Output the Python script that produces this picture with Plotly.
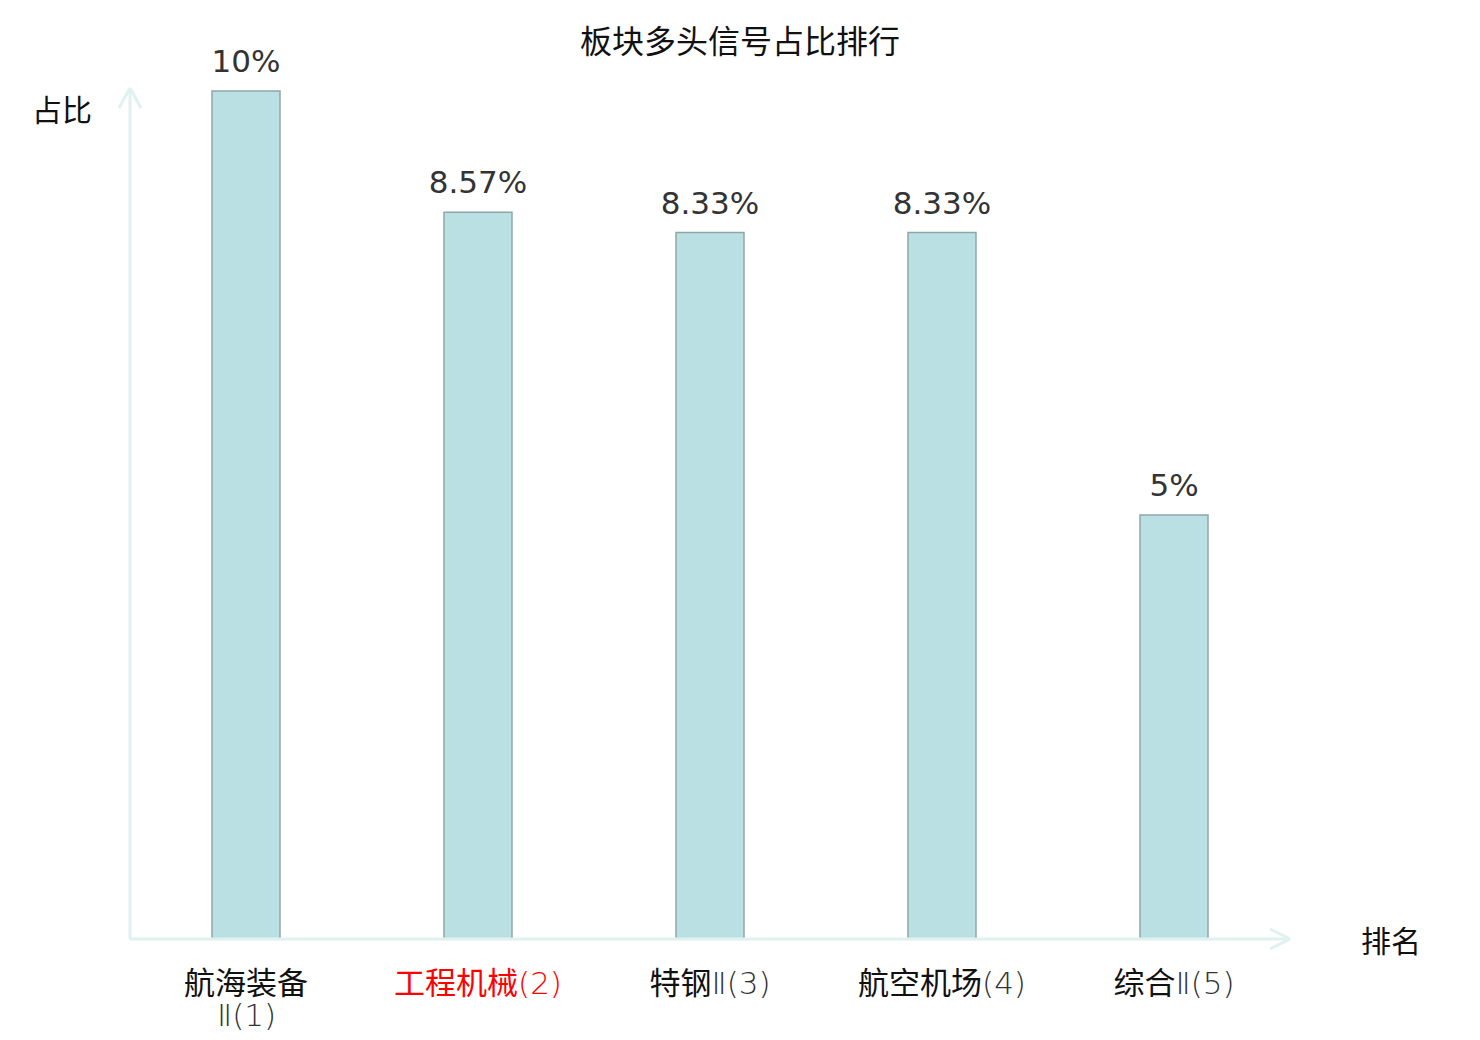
import plotly.graph_objects as go

# 板块多头信号占比
categories = ["航海装备Ⅱ(1)", "工程机械(2)", "特钢Ⅱ(3)", "航空机场(4)", "综合Ⅱ(5)"]
values = [10, 8.57, 8.33, 8.33, 5]
value_labels = ["10%", "8.57%", "8.33%", "8.33%", "5%"]

AXIS_COLOR = "#dff2ef"
CJK = "Noto Sans CJK SC"
LAT = "font-family:'DejaVu Sans';font-weight:200"


def latin(s, color="#333333"):
    return "<span style=\"%s;color:%s\">%s</span>" % (LAT, color, s)


tick_labels = [
    "航海装备",
    "<span style='color:#ff0000'>工程机械</span>" + latin("(2)", "#ff0000"),
    "特钢" + latin("Ⅱ(3)"),
    "航空机场" + latin("(4)"),
    "综合" + latin("Ⅱ(5)"),
]
xs = list(range(len(categories)))

fig = go.Figure()
fig.add_trace(go.Bar(
    x=xs,
    y=values,
    width=0.293,
    marker=dict(color="#bbe0e3", line=dict(color="#8fa6a8", width=1.5)),
    hovertext=categories,
))
# value labels above the bars
fig.add_trace(go.Scatter(
    x=xs,
    y=values,
    mode="markers+text",
    marker=dict(size=16, opacity=0),
    text=value_labels,
    textposition="top center",
    textfont=dict(family="DejaVu Sans", size=31, color="#333333"),
    cliponaxis=False,
    hoverinfo="skip",
))

# axis lines with open arrow heads
arrow = dict(color=AXIS_COLOR, width=3)
shapes = [
    dict(type="line", xref="x domain", yref="y domain", x0=0, x1=1, y0=0, y1=0, line=arrow),
    dict(type="line", xref="x domain", yref="y domain", x0=0, x1=0, y0=0, y1=1, line=arrow),
]
for dy in (10, -10):
    shapes.append(dict(type="line", xref="x domain", yref="y domain",
                       xsizemode="pixel", xanchor=1, x0=0, x1=-20,
                       ysizemode="pixel", yanchor=0, y0=0, y1=dy, line=arrow))
for dx in (11, -11):
    shapes.append(dict(type="line", xref="x domain", yref="y domain",
                       xsizemode="pixel", xanchor=0, x0=0, x1=dx,
                       ysizemode="pixel", yanchor=1, y0=0, y1=-20, line=arrow))

fig.update_layout(
    width=1480,
    height=1040,
    margin=dict(l=122, r=198, t=80, b=109, autoexpand=False),
    paper_bgcolor="white",
    plot_bgcolor="white",
    showlegend=False,
    title=dict(text="板块多头信号占比排行", x=732 / 1480, xref="container", xanchor="center",
               y=1 - 34 / 1040, yref="container", yanchor="middle",
               font=dict(family=CJK, size=32, color="#111111")),
    shapes=shapes,
    xaxis=dict(range=[-0.5, 4.5], tickvals=xs, ticktext=tick_labels,
               showgrid=False, zeroline=False, showline=False, ticks="", automargin=False,
               tickfont=dict(family=CJK, size=31, color="#111111"), ticklabelstandoff=23),
    yaxis=dict(range=[0, 10.035], showgrid=False, zeroline=False, showline=False,
               showticklabels=False, ticks="", automargin=False),
    annotations=[
        dict(text=latin("Ⅱ(1)"), x=0, xref="x", y=0, yref="paper", yshift=-76,
             xanchor="center", yanchor="middle", showarrow=False,
             font=dict(family=CJK, size=31, color="#111111")),
        dict(text="占比", xref="paper", yref="paper", x=0, y=1, xshift=-68, yshift=-20,
             xanchor="center", yanchor="middle",
             showarrow=False, font=dict(family=CJK, size=30, color="#111111")),
        dict(text="排名", xref="paper", yref="paper", x=1, y=0, xshift=101, yshift=0,
             xanchor="center", yanchor="middle",
             showarrow=False, font=dict(family=CJK, size=30, color="#111111")),
    ],
)

fig.write_html("out.html")
